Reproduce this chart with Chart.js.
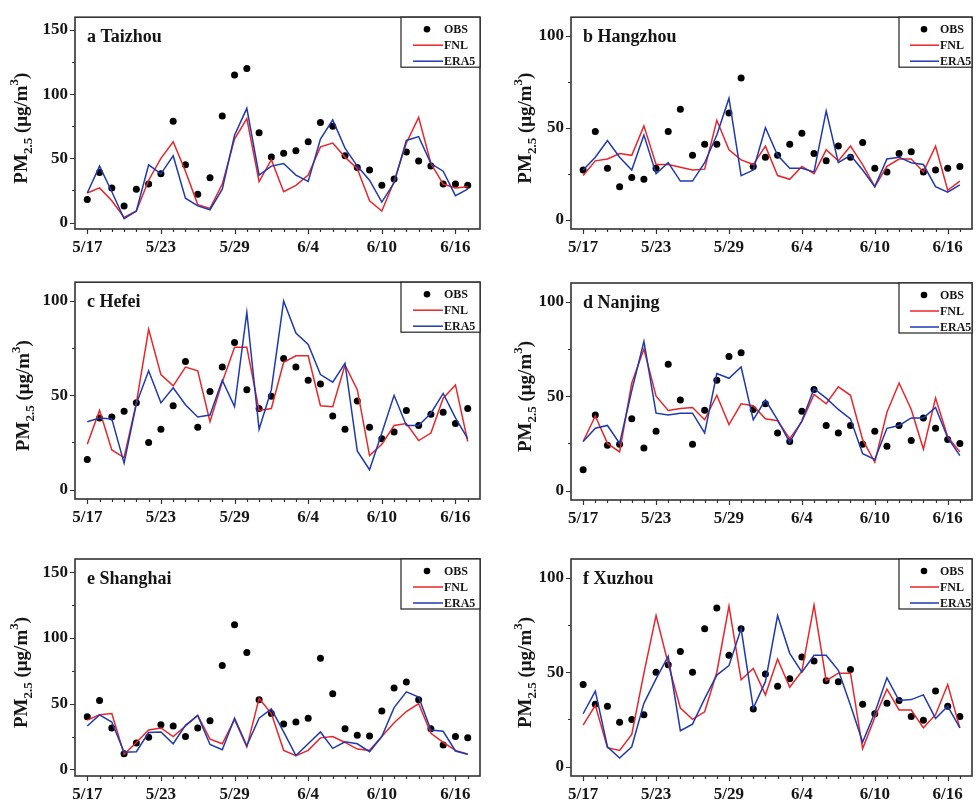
<!DOCTYPE html>
<html>
<head>
<meta charset="utf-8">
<script src="https://cdn.jsdelivr.net/npm/chart.js@4.4.1/dist/chart.umd.min.js"></script>
<style>
  body { margin: 0; background: #fff; }
  #wrap { position: relative; width: 976px; height: 802px; overflow: hidden; background: #fff; }
  #wrap canvas { position: absolute; }
</style>
</head>
<body>
<div id="wrap"></div>
<script>
// dates on the x axis, one value per day
const days = ['5/17','5/18','5/19','5/20','5/21','5/22','5/23','5/24','5/25','5/26','5/27','5/28','5/29','5/30','5/31',
  '6/1','6/2','6/3','6/4','6/5','6/6','6/7','6/8','6/9','6/10','6/11','6/12','6/13','6/14','6/15','6/16','6/17'];
const dayTicks = [0, 6, 12, 18, 24, 30];

// PM2.5 values
const taizhouObs  = [18, 39, 27, 13, 26, 30, 38, 79, 45, 22, 35, 83, 115, 120, 70, 51, 54, 56, 63, 78, 75, 52, 43, 41, 29, 34, 55, 48, 44, 30, 30, 29];
const taizhouFnl  = [23, 27, 17, 4, 9, 33, 50, 63, 40, 14, 11, 30, 65, 81, 32, 49, 24, 29, 37, 59, 62, 51, 42, 17, 9, 32, 62, 82, 46, 30, 27, 28];
const taizhouEra5 = [23, 44, 24, 3, 9, 45, 38, 52, 19, 13, 10, 26, 68, 89, 37, 44, 46, 37, 32, 65, 80, 58, 44, 33, 16, 31, 64, 67, 46, 40, 21, 26];

const hangzhouObs  = [27, 48, 28, 18, 23, 22, 28, 48, 60, 35, 41, 41, 58, 77, 29, 34, 35, 41, 47, 36, 32, 40, 34, 42, 28, 26, 36, 37, 26, 27, 28, 29];
const hangzhouFnl  = [24, 32, 33, 36, 35, 51, 30, 30, 28.5, 27, 27.5, 54, 38, 32.5, 30, 40, 24, 22, 29, 25, 38, 32, 40, 30, 18, 29, 33, 33, 26, 40, 16, 21];
const hangzhouEra5 = [27, 34, 43, 34, 27, 46, 25, 31, 21, 21, 31, 46, 66, 24, 27, 50, 35, 28, 28, 26, 59, 31, 35, 27, 18, 33, 34, 31, 30, 18, 15, 19];

const hefeiObs  = [16, 38, 38.5, 41.5, 46, 25, 32, 44.5, 68, 33, 52, 65, 78, 53, 43, 49.5, 69.5, 65, 58, 56, 39, 32, 47, 33, 27, 30.5, 42, 34, 40, 41, 35, 43];
const hefeiFnl  = [24, 42, 21, 17, 46, 85, 61, 55, 65, 63, 36, 57, 75.5, 75.5, 42, 43, 67.5, 71, 71, 44.5, 44, 66, 53, 18, 24, 34, 35, 26, 30, 48.5, 55.5, 25.5];
const hefeiEra5 = [36, 38, 37.5, 14, 45.5, 63, 46, 54, 45, 38.5, 39.5, 58, 44, 94, 32, 53, 100, 83, 77, 61, 57, 67, 20.5, 10.5, 30, 50, 34, 34, 40.5, 51, 38, 27];

const nanjingObs  = [11, 40, 24, 24.5, 38, 22.5, 31.5, 67, 48, 24.5, 42.5, 58.5, 71, 73, 43, 46, 30.5, 26, 42, 53.5, 34.5, 30.5, 34.5, 24.5, 31.5, 23.5, 34.5, 26.5, 38.5, 33, 27, 25];
const nanjingFnl  = [26, 39.5, 25, 20.5, 57, 75, 50, 42.5, 43.5, 44, 37.5, 50.5, 35, 46, 45, 38, 37, 27.5, 36.5, 51, 46, 55, 50.5, 27, 15, 41.5, 57, 43, 22, 49, 28.5, 20.5];
const nanjingEra5 = [26, 33, 34.5, 25, 53, 79, 41, 40, 41, 41, 30.5, 62, 59.5, 65.5, 37.5, 48, 37.5, 25.5, 37, 54, 49, 43, 38, 19.5, 16.5, 33, 34.5, 38.5, 38.5, 44, 28, 18.5];

const shanghaiObs  = [40, 52.5, 31.5, 12, 20, 24.5, 34, 33, 25, 31.5, 37, 79, 110, 89, 53, 42.5, 34.5, 36, 39, 84.5, 57.5, 31, 26, 25.5, 44.5, 62, 66.5, 53, 31, 18.5, 25, 24];
const shanghaiFnl  = [37.5, 41.5, 42.5, 11.5, 20.5, 30, 31.5, 25, 33, 41, 23, 19.5, 38, 17, 54, 42.5, 14.5, 10.5, 14.5, 24, 25, 20.5, 15.5, 14.5, 25, 35.5, 44, 50, 27.5, 20.5, 14.5, 11.5];
const shanghaiEra5 = [33, 41.5, 36, 13, 13.5, 28, 28.5, 19.5, 33.5, 41, 19, 15, 39, 18, 39, 46, 28.5, 10.5, 19.5, 28.5, 16, 21, 19.5, 13.5, 25, 47, 59, 55, 30, 29, 14, 11.5];

const xuzhouObs  = [43.5, 33, 32, 23.5, 25, 27.5, 50, 54, 61, 50, 73, 84, 59, 73, 30.5, 49, 42.5, 46.5, 58, 56, 45.5, 45, 51.5, 33, 28, 33.5, 35, 26.5, 24.5, 40, 32, 26.5];
const xuzhouFnl  = [22, 32.5, 10, 8.5, 17, 49.5, 80, 54.5, 31, 25, 29, 50, 85, 46, 52, 38, 57, 42, 50.5, 85.5, 45.5, 49.5, 49.5, 9.5, 26, 41, 30, 30, 20.5, 27.5, 43.5, 20.5];
const xuzhouEra5 = [28, 40, 10.5, 4.5, 10.5, 33.5, 46.5, 58.5, 19, 22.5, 36, 48.5, 53.5, 73, 31, 45, 80, 60, 50, 59, 59, 51, 32.5, 13, 28.5, 47, 35, 35.5, 38, 25.5, 32, 20.5];

const RED = '#e8262b';
const BLUE = '#1f3ab0';
const INK = '#151515';
const SERIF = '"Liberation Serif", "Times New Roman", serif';

// canvas box [left, top, w, h] and plot frame [left, top, right, bottom] in page pixels
const panels = [
  { name: 'a Taizhou',  obs: taizhouObs,  fnl: taizhouFnl,  era5: taizhouEra5,  yMax: 160, yTicks: [0, 50, 100, 150],
    box: [0, 0, 490, 265],     area: [75, 12, 480, 229],   titleX: 27, col: 0 },
  { name: 'b Hangzhou', obs: hangzhouObs, fnl: hangzhouFnl, era5: hangzhouEra5, yMax: 110, yTicks: [0, 50, 100],
    box: [490, 0, 486, 265],   area: [571, 12, 975, 229],  titleX: 41, col: 1 },
  { name: 'c Hefei',    obs: hefeiObs,    fnl: hefeiFnl,    era5: hefeiEra5,    yMax: 110, yTicks: [0, 50, 100],
    box: [0, 265, 490, 270],   area: [75, 282, 480, 499],  titleX: 29, col: 0 },
  { name: 'd Nanjing',  obs: nanjingObs,  fnl: nanjingFnl,  era5: nanjingEra5,  yMax: 110, yTicks: [0, 50, 100],
    box: [490, 265, 486, 270], area: [571, 283, 975, 500], titleX: 41, col: 1 },
  { name: 'e Shanghai', obs: shanghaiObs, fnl: shanghaiFnl, era5: shanghaiEra5, yMax: 160, yTicks: [0, 50, 100, 150],
    box: [0, 535, 490, 267],   area: [75, 559, 480, 776],  titleX: 27, col: 0 },
  { name: 'f Xuzhou',   obs: xuzhouObs,   fnl: xuzhouFnl,   era5: xuzhouEra5,   yMax: 110, yTicks: [0, 50, 100],
    box: [490, 535, 486, 267], area: [571, 559, 975, 776], titleX: 41, col: 1 }
];

function pts(values) {
  return values.map((v, i) => ({ x: i, y: v }));
}

// frame, outward ticks, panel name, axis title and boxed legend
const framePlugin = {
  id: 'frame',
  afterDraw(chart, args, opts) {
    const p = opts.panel;
    const ctx = chart.ctx;
    const a = chart.chartArea;
    const xs = chart.scales.x, ys = chart.scales.y;
    ctx.save();

    ctx.strokeStyle = '#333';
    ctx.lineWidth = 1.2;
    ctx.beginPath();
    days.forEach((d, i) => {
      const px = Math.round(xs.getPixelForValue(i)) + 0.5;
      const len = i % 6 === 0 ? 5 : 3;
      ctx.moveTo(px, a.bottom);
      ctx.lineTo(px, a.bottom + len);
    });
    for (let v = 0; v <= p.yMax; v += 25) {
      const py = Math.round(ys.getPixelForValue(v)) + 0.5;
      const len = v % 50 === 0 ? 5 : 3;
      ctx.moveTo(a.left, py);
      ctx.lineTo(a.left - len, py);
    }
    ctx.stroke();

    ctx.lineWidth = 1.6;
    ctx.strokeRect(a.left, a.top, a.right - a.left, a.bottom - a.top);

    ctx.fillStyle = INK;
    ctx.font = 'bold 18px ' + SERIF;
    ctx.textAlign = 'left';
    ctx.textBaseline = 'alphabetic';
    ctx.fillText(p.name, a.left + 12, a.top + 25);

    // PM2.5 (ug/m3) with sub and superscript
    const big = 'bold 19px ' + SERIF, small = 'bold 13px ' + SERIF;
    const parts = [['PM', big, 0], ['2.5', small, 5], [' (\u03bcg/m', big, 0], ['3', small, -9], [')', big, 0]];
    ctx.save();
    ctx.translate(p.titleX, (a.top + a.bottom) / 2 + 5);
    ctx.rotate(-Math.PI / 2);
    let total = 0;
    parts.forEach(([t, f]) => { ctx.font = f; total += ctx.measureText(t).width; });
    let tx = -total / 2;
    parts.forEach(([t, f, dy]) => {
      ctx.font = f;
      ctx.fillText(t, tx, dy);
      tx += ctx.measureText(t).width;
    });
    ctx.restore();

    // legend
    const L = p.col === 0 ? { w: 79, dot: 53, l0: 67, l1: 37, tx: 36 } : { w: 73, dot: 48, l0: 62, l1: 33, tx: 32 };
    const bx = a.right - L.w, by = a.top;
    ctx.fillStyle = '#fff';
    ctx.fillRect(bx, by, L.w, 50);
    ctx.strokeStyle = '#222';
    ctx.lineWidth = 1.2;
    ctx.strokeRect(bx, by, L.w, 50);
    ctx.font = 'bold 12px ' + SERIF;
    ctx.textBaseline = 'middle';
    const ds = chart.data.datasets;
    ds.forEach((d, k) => {
      const y = by + 12 + k * 16;
      if (k === 0) {
        ctx.fillStyle = '#000';
        ctx.beginPath();
        ctx.arc(a.right - L.dot, y, 3.3, 0, Math.PI * 2);
        ctx.fill();
      } else {
        ctx.strokeStyle = d.borderColor;
        ctx.lineWidth = 1.5;
        ctx.beginPath();
        ctx.moveTo(a.right - L.l0, y);
        ctx.lineTo(a.right - L.l1, y);
        ctx.stroke();
      }
      ctx.fillStyle = INK;
      ctx.fillText(d.label, a.right - L.tx, y + 0.5);
    });

    ctx.restore();
  }
};

const wrap = document.getElementById('wrap');

panels.forEach(p => {
  const [bl, bt, bw, bh] = p.box;
  const [al, at, ar, ab] = p.area;
  const cv = document.createElement('canvas');
  cv.width = bw;
  cv.height = bh;
  cv.style.left = bl + 'px';
  cv.style.top = bt + 'px';
  cv.style.width = bw + 'px';
  cv.style.height = bh + 'px';
  wrap.appendChild(cv);

  const tickFont = { family: SERIF, size: 17, weight: 'bold' };

  new Chart(cv, {
    type: 'line',
    data: {
      datasets: [
        { label: 'OBS', data: pts(p.obs), showLine: false, pointRadius: 3.5, pointBackgroundColor: '#000',
          pointBorderWidth: 0, order: 3 },
        { label: 'FNL', data: pts(p.fnl), borderColor: RED, borderWidth: 1.5, pointRadius: 0, tension: 0,
          fill: false, order: 2 },
        { label: 'ERA5', data: pts(p.era5), borderColor: BLUE, borderWidth: 1.5, pointRadius: 0, tension: 0,
          fill: false, order: 1 }
      ]
    },
    options: {
      responsive: false,
      animation: false,
      devicePixelRatio: 1,
      layout: { padding: { top: at - bt, right: bl + bw - ar, left: 0, bottom: 0 } },
      plugins: {
        legend: { display: false },
        tooltip: { enabled: false },
        frame: { panel: p }
      },
      scales: {
        x: {
          type: 'linear', min: -1, max: 32,
          grid: { display: false, drawTicks: false },
          border: { display: false },
          afterBuildTicks: s => { s.ticks = dayTicks.map(v => ({ value: v })); },
          afterFit: s => { s.height = bt + bh - ab; },
          ticks: { callback: v => days[v], font: tickFont, color: INK, padding: 8, maxRotation: 0, autoSkip: false }
        },
        y: {
          type: 'linear', min: -5, max: p.yMax,
          grid: { display: false, drawTicks: false },
          border: { display: false },
          afterBuildTicks: s => { s.ticks = p.yTicks.map(v => ({ value: v })); },
          afterFit: s => { s.width = al - bl; },
          ticks: { callback: v => String(v), font: tickFont, color: INK, padding: 7 }
        }
      }
    },
    plugins: [framePlugin]
  });
});
</script>
</body>
</html>
